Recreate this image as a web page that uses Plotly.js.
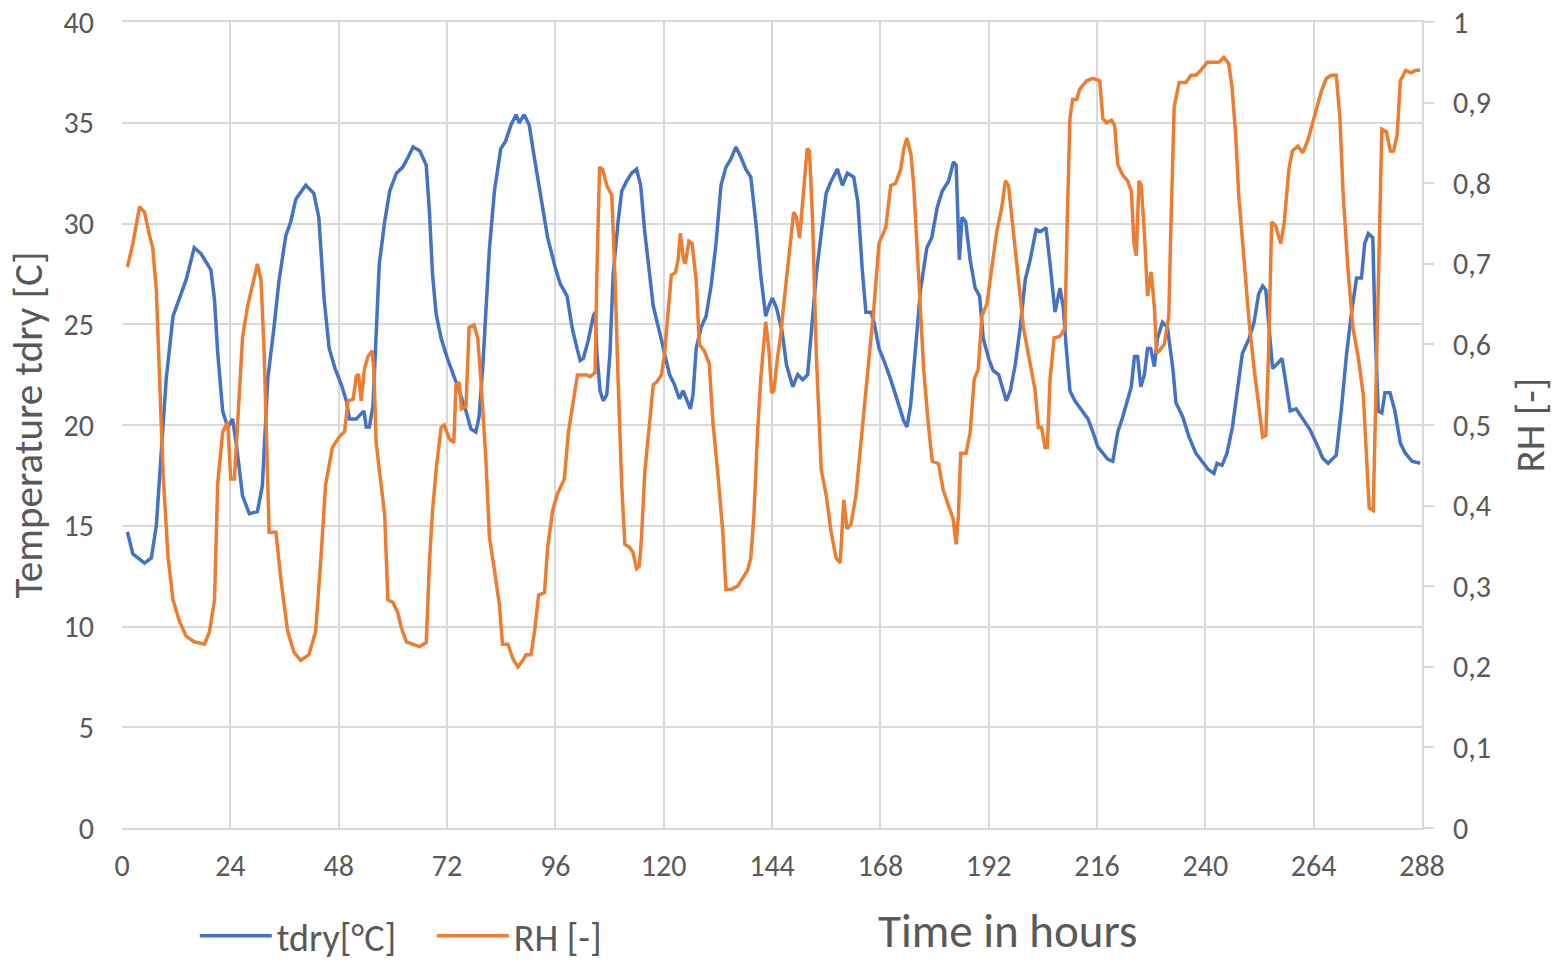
<!DOCTYPE html>
<html>
<head>
<meta charset="utf-8">
<script src="https://cdn.plot.ly/plotly-3.0.1.min.js"></script>
<style>html,body{margin:0;padding:0;background:#fff;overflow:hidden;}#chart{width:1565px;height:962px;}</style>
</head>
<body>
<div id="chart"></div>
<script>
// Temperature series (hours, °C)
const tdryHours = [1.2,2.4,5.0,6.5,7.6,8.7,9.8,11.3,12.7,14.2,16.0,17.5,19.7,20.5,21.2,22.3,23.4,24.5,25.3,26.7,28.2,30.0,31.1,32.3,33.7,34.8,36.3,37.4,38.5,40.7,42.5,43.6,44.8,45.9,47.2,48.6,49.7,50.4,51.9,53.0,53.6,54.1,54.8,55.6,56.3,57.0,58.2,59.3,60.8,62.2,63.4,64.5,66.0,67.4,68.1,68.8,69.6,70.7,72.1,73.6,74.7,76.2,77.3,78.4,79.1,79.9,80.6,81.4,82.5,83.9,85.0,86.2,87.3,88.0,89.1,90.2,91.4,92.8,94.3,96.0,97.1,98.6,99.7,100.8,101.5,102.2,103.3,104.4,104.8,105.2,105.9,106.6,107.4,108.1,108.8,109.9,110.7,111.8,112.9,114.0,114.9,115.8,116.9,117.7,119.1,120.2,121.3,122.4,123.5,124.3,125.0,125.9,126.5,127.2,128.3,129.4,130.5,131.6,132.7,133.8,134.9,136.0,137.1,138.2,139.3,140.4,141.5,142.6,143.3,144.1,145.0,146.2,147.2,148.6,149.7,150.8,151.9,152.7,153.8,154.9,156.0,157.1,158.5,159.6,160.7,162.1,163.0,164.0,164.8,165.9,166.6,167.7,168.8,170.3,171.7,173.2,173.9,174.7,175.8,176.9,178.3,179.4,180.6,181.7,183.1,184.2,184.8,185.5,186.1,186.9,187.9,189.0,190.0,190.8,192.0,193.0,194.2,194.9,195.9,196.8,197.9,199.0,200.1,201.2,202.5,203.5,204.7,205.6,206.7,207.8,208.5,209.2,210.0,211.1,212.6,214.0,215.1,216.2,217.3,218.4,219.5,220.6,221.7,222.8,223.6,224.3,225.0,225.7,226.5,227.2,227.9,228.7,229.4,230.5,231.6,232.8,233.5,235.0,236.4,237.9,239.3,240.6,241.9,242.6,243.7,244.8,246.0,247.1,248.2,249.7,250.8,251.8,252.7,253.4,254.1,254.9,256.0,257.0,257.9,258.8,260.1,261.6,263.1,264.6,266.0,267.2,269.0,270.1,271.3,272.4,273.5,274.6,275.3,276.1,277.1,277.6,278.3,279.1,279.8,280.9,282.0,283.2,284.3,285.8,287.6];
const tdryValues = [14.7,13.6,13.15,13.4,15.0,18.6,22.3,25.4,26.3,27.2,28.8,28.5,27.7,26.2,23.6,20.7,19.9,20.3,19.1,16.5,15.6,15.7,17.0,22.3,24.9,27.2,29.4,30.1,31.2,31.9,31.5,30.3,26.2,23.8,22.8,22.0,21.2,20.3,20.3,20.6,20.7,19.9,19.9,20.95,24.3,28.0,30.1,31.6,32.5,32.8,33.3,33.8,33.6,32.9,30.6,27.45,25.5,24.3,23.3,22.4,21.7,20.7,19.8,19.65,20.4,22.8,25.9,28.75,31.6,33.7,34.1,34.9,35.4,35.0,35.4,34.9,33.2,31.4,29.3,27.8,27.0,26.4,24.85,23.8,23.2,23.3,24.2,25.4,25.6,23.55,21.7,21.2,21.5,23.55,27.45,30.1,31.6,32.1,32.5,32.7,31.9,29.6,27.45,25.9,24.6,23.55,22.5,22.0,21.3,21.7,21.3,20.8,21.5,23.8,24.85,25.4,26.9,29.0,31.9,32.8,33.2,33.8,33.3,32.7,32.3,30.1,27.45,25.4,25.9,26.3,25.8,24.7,23.0,21.9,22.5,22.25,22.5,24.6,27.45,29.5,31.5,32.1,32.7,31.9,32.5,32.3,31.1,27.7,25.6,25.6,25.1,23.8,23.2,22.25,21.2,20.2,19.9,20.95,23.8,26.7,28.8,29.3,30.8,31.6,32.1,33.05,32.9,28.2,30.3,30.1,28.2,26.8,26.4,24.3,23.3,22.7,22.5,22.0,21.2,21.7,23.0,24.85,27.2,28.2,29.7,29.6,29.8,28.0,25.6,26.8,25.9,23.8,21.7,21.2,20.7,20.3,19.65,18.9,18.6,18.3,18.2,19.65,20.4,21.2,21.9,23.4,23.4,21.9,22.5,23.8,23.8,22.9,24.3,25.1,24.85,22.8,21.1,20.4,19.4,18.6,18.2,17.8,17.6,18.1,18.0,18.6,19.9,21.7,23.55,24.3,25.1,26.5,26.9,26.7,24.85,22.8,23.05,23.3,22.0,20.7,20.8,20.3,19.8,19.1,18.35,18.1,18.5,20.7,23.55,25.6,27.3,27.3,29.0,29.5,29.3,24.85,20.7,20.6,21.6,21.6,20.7,19.1,18.6,18.2,18.1];

// Relative humidity series (hours, -)
const rhHours = [1.2,2.4,3.9,5.0,6.1,6.8,7.6,8.3,9.1,10.2,11.3,12.7,14.2,16.0,18.3,19.4,20.5,21.2,22.3,23.4,24.1,24.9,25.6,26.7,27.8,29.3,30.0,30.8,31.5,32.6,34.1,35.2,36.7,38.1,39.6,41.4,42.9,44.0,45.1,46.6,48.1,49.3,50.1,51.2,51.9,52.4,53.0,53.7,54.5,55.4,55.8,56.3,57.4,58.2,58.9,60.0,61.1,61.8,63.0,64.4,65.9,67.4,68.1,68.8,69.6,70.7,71.4,72.5,73.5,74.0,74.7,75.2,76.2,76.9,78.0,78.8,79.5,80.6,81.4,82.5,83.6,84.3,85.5,86.6,87.7,88.8,89.5,90.6,91.4,92.3,93.6,94.3,95.4,96.5,98.0,98.9,100.0,100.9,101.9,103.0,103.7,104.8,105.2,105.8,106.5,107.4,108.5,109.2,109.9,110.7,111.4,112.5,113.2,114.0,114.6,115.1,115.8,116.6,117.7,118.4,119.5,120.2,121.0,121.7,122.6,123.2,123.7,124.4,124.8,125.6,126.3,127.2,127.9,129.0,130.1,130.9,132.0,133.1,133.8,134.9,136.4,137.5,138.6,139.3,140.0,140.8,141.5,142.6,143.3,143.9,144.4,145.2,145.9,146.8,147.9,148.8,149.4,150.1,150.8,151.8,152.3,153.0,153.8,154.9,156.0,157.1,158.2,159.1,159.9,160.6,161.5,162.6,163.7,165.1,166.6,167.7,169.2,170.3,171.4,172.5,173.2,173.9,174.8,175.4,176.5,177.6,178.7,179.5,180.9,181.9,183.1,184.1,184.8,185.3,185.8,187.0,187.9,188.8,189.7,190.5,191.6,192.7,193.8,194.9,195.7,196.4,197.5,198.6,199.7,201.2,202.3,203.0,203.7,204.5,205.0,205.6,206.5,207.8,208.9,209.4,210.0,210.6,211.5,212.2,213.7,215.1,216.6,217.3,218.1,219.2,219.9,220.6,221.7,222.8,223.6,224.2,224.7,225.3,225.8,226.5,227.2,228.0,228.7,229.2,229.8,230.9,231.9,232.4,233.1,234.2,235.7,236.8,237.9,239.0,240.4,241.5,243.0,244.1,245.2,245.9,246.7,247.4,248.6,249.7,250.8,251.9,252.7,253.4,254.0,254.7,255.6,256.7,257.5,258.5,259.3,260.5,261.6,262.7,263.4,264.6,265.7,266.8,267.9,269.0,269.8,270.5,271.6,272.7,273.9,275.0,275.7,276.3,277.2,277.8,278.6,279.1,280.1,281.0,281.7,282.5,283.2,284.4,285.5,286.6,287.6];
const rhValues = [0.696,0.725,0.771,0.764,0.735,0.72,0.668,0.557,0.44,0.336,0.283,0.257,0.238,0.231,0.228,0.244,0.283,0.427,0.491,0.504,0.433,0.433,0.498,0.608,0.647,0.686,0.70,0.68,0.589,0.367,0.367,0.309,0.244,0.218,0.208,0.215,0.244,0.329,0.426,0.472,0.485,0.492,0.53,0.532,0.56,0.563,0.53,0.569,0.585,0.592,0.569,0.478,0.426,0.388,0.283,0.28,0.267,0.25,0.231,0.228,0.225,0.23,0.329,0.394,0.445,0.497,0.5,0.483,0.478,0.55,0.553,0.52,0.523,0.621,0.624,0.608,0.557,0.459,0.361,0.32,0.277,0.228,0.228,0.21,0.20,0.208,0.215,0.215,0.244,0.289,0.292,0.348,0.394,0.415,0.433,0.491,0.53,0.562,0.562,0.562,0.56,0.565,0.686,0.82,0.817,0.797,0.785,0.686,0.557,0.426,0.352,0.348,0.342,0.322,0.325,0.361,0.44,0.491,0.55,0.553,0.562,0.589,0.64,0.686,0.689,0.705,0.738,0.705,0.70,0.728,0.725,0.68,0.60,0.592,0.576,0.504,0.44,0.367,0.296,0.296,0.30,0.31,0.32,0.335,0.388,0.491,0.557,0.628,0.595,0.54,0.542,0.583,0.61,0.66,0.72,0.764,0.758,0.732,0.777,0.843,0.84,0.752,0.589,0.445,0.413,0.367,0.335,0.329,0.407,0.371,0.377,0.413,0.478,0.557,0.647,0.725,0.745,0.797,0.80,0.817,0.843,0.856,0.835,0.797,0.686,0.569,0.497,0.455,0.452,0.42,0.40,0.384,0.352,0.388,0.465,0.465,0.491,0.557,0.569,0.635,0.65,0.695,0.74,0.77,0.803,0.797,0.738,0.68,0.621,0.576,0.543,0.497,0.497,0.472,0.472,0.557,0.608,0.61,0.62,0.752,0.88,0.904,0.904,0.917,0.927,0.93,0.927,0.88,0.875,0.878,0.872,0.823,0.81,0.803,0.79,0.725,0.71,0.803,0.797,0.738,0.66,0.69,0.647,0.589,0.592,0.60,0.635,0.752,0.895,0.925,0.925,0.934,0.934,0.94,0.95,0.95,0.95,0.956,0.948,0.92,0.862,0.785,0.70,0.628,0.57,0.518,0.485,0.487,0.589,0.752,0.747,0.725,0.752,0.817,0.84,0.846,0.838,0.853,0.868,0.892,0.914,0.93,0.934,0.934,0.882,0.79,0.693,0.621,0.583,0.537,0.452,0.397,0.394,0.557,0.752,0.867,0.864,0.84,0.84,0.86,0.927,0.94,0.937,0.94,0.94];

const xTicks = [0,24,48,72,96,120,144,168,192,216,240,264,288];
const seriesNames = ["tdry[°C]", "RH [-]"];

const FONT = "Calibri, Carlito, 'Liberation Sans', Arial, sans-serif";
const GREY = "#595959";
const GRID = "#d9d9d9";

const traces = [
  {x: tdryHours, y: tdryValues, type: 'scatter', mode: 'lines', name: seriesNames[0],
   line: {color: '#4472C4', width: 3.5}, yaxis: 'y'},
  {x: rhHours, y: rhValues, type: 'scatter', mode: 'lines', name: seriesNames[1],
   line: {color: '#ED7D31', width: 3.5}, yaxis: 'y2'}
];

const layout = {
  width: 1565, height: 962,
  margin: {l: 122, r: 143, t: 22, b: 134, autoexpand: false},
  paper_bgcolor: '#fff', plot_bgcolor: '#fff',
  separators: ', ',
  font: {family: FONT, color: GREY, size: 30},
  showlegend: true,
  legend: {orientation: 'h', xref: 'paper', yref: 'container', x: 0.056, y: 0.027,
           xanchor: 'left', yanchor: 'middle', itemwidth: 72, entrywidth: 150,
           entrywidthmode: 'pixels', tracegroupgap: 0,
           font: {size: 38, color: GREY, family: FONT}, bgcolor: 'rgba(0,0,0,0)'},
  xaxis: {range: [0, 288], tickvals: xTicks, ticktext: xTicks.map(String),
          showgrid: true, gridcolor: GRID, gridwidth: 2, zeroline: false,
          showline: true, linecolor: GRID, linewidth: 2, mirror: true,
          ticks: '', ticklabelstandoff: 10, tickfont: {size: 30, color: GREY}},
  yaxis: {range: [0, 40], dtick: 5, tick0: 0, showgrid: true, gridcolor: GRID, gridwidth: 2,
          zeroline: false, showline: false, ticks: '', ticklabelstandoff: 27,
          tickfont: {size: 30, color: GREY},
          title: {text: 'Temperature tdry [C]', font: {size: 41, color: GREY}, standoff: 8}},
  yaxis2: {range: [0, 1], dtick: 0.1, tick0: 0, overlaying: 'y', side: 'right',
           showgrid: false, zeroline: false, showline: true, linecolor: GRID, linewidth: 2,
           ticks: 'outside', ticklen: 10, tickcolor: GRID, tickwidth: 2,
           ticklabelstandoff: 13, tickfont: {size: 30, color: GREY},
           title: {text: 'RH [-]', font: {size: 41, color: GREY}, standoff: 25}},
  annotations: [{text: 'Time in hours', xref: 'paper', yref: 'paper', x: 0.6815, y: -0.128,
                 xanchor: 'center', yanchor: 'middle', showarrow: false,
                 font: {size: 47, color: GREY, family: FONT}}]
};

Plotly.newPlot('chart', traces, layout, {displayModeBar: false, staticPlot: true});
</script>
</body>
</html>
